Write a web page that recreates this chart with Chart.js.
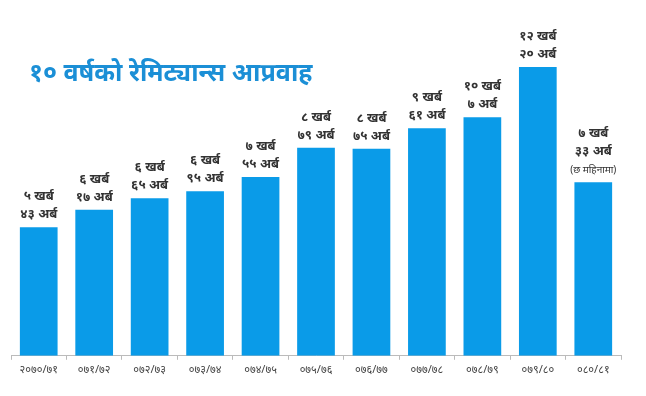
<!DOCTYPE html>
<html>
<head>
<meta charset="utf-8">
<script src="https://cdn.jsdelivr.net/npm/chart.js@4/dist/chart.umd.min.js"></script>
<style>
  body { margin: 0; background: #fff; }
  #wrap { position: relative; width: 646px; height: 396px; }
  #title {
    position: absolute; left: 29px; top: 54px;
    font-family: "Noto Sans", sans-serif; font-weight: bold;
    font-size: 25px; color: #1b8fd6; white-space: nowrap;
  }
</style>
</head>
<body>
<div id="wrap">
  <canvas id="chart" width="646" height="396"></canvas>
  <div id="title">१० वर्षको रेमिट्यान्स आप्रवाह</div>
</div>
<script>
// आर्थिक वर्ष
const years = ['२०७०/७१', '०७१/७२', '०७२/७३', '०७३/७४', '०७४/७५', '०७५/७६', '०७६/७७', '०७७/७८', '०७८/७९', '०७९/८०', '०८०/८१'];
// रकम (अर्बमा)
const remit = [543, 617, 665, 695, 755, 879, 875, 961, 1007, 1220, 733];
// बारमाथिको लेबल
const kharbaText = ['५ खर्ब', '६ खर्ब', '६ खर्ब', '६ खर्ब', '७ खर्ब', '८ खर्ब', '८ खर्ब', '९ खर्ब', '१० खर्ब', '१२ खर्ब', '७ खर्ब'];
const arbaText = ['४३ अर्ब', '१७ अर्ब', '६५ अर्ब', '९५ अर्ब', '५५ अर्ब', '७९ अर्ब', '७५ अर्ब', '६१ अर्ब', '७ अर्ब', '२० अर्ब', '३३ अर्ब'];
const noteText = ['', '', '', '', '', '', '', '', '', '', '(छ महिनामा)'];

const barLabels = {
    id: 'barLabels',
    afterDatasetsDraw(chart) {
        const ctx = chart.ctx;
        const meta = chart.getDatasetMeta(0);
        ctx.save();
        ctx.fillStyle = '#333';
        ctx.textAlign = 'center';
        ctx.textBaseline = 'alphabetic';
        meta.data.forEach((bar, i) => {
            let y = bar.y - 9;
            if (noteText[i]) {
                ctx.font = '10px "Noto Sans", sans-serif';
                ctx.fillText(noteText[i], bar.x, y);
                y -= 18;
            }
            ctx.font = 'bold 13px "Noto Sans", sans-serif';
            ctx.fillText(arbaText[i], bar.x, y);
            ctx.fillText(kharbaText[i], bar.x, y - 18);
        });
        ctx.restore();
    }
};

new Chart(document.getElementById('chart').getContext('2d'), {
    type: 'bar',
    data: {
        labels: years,
        datasets: [{
            data: remit,
            backgroundColor: '#0a9be8',
            barPercentage: 0.68,
            categoryPercentage: 1.0
        }]
    },
    options: {
        responsive: false,
        animation: false,
        layout: { padding: { left: 11, right: 25, top: 48, bottom: 17 } },
        plugins: { legend: { display: false }, tooltip: { enabled: false } },
        scales: {
            x: {
                border: { color: '#bbb' },
                grid: { drawOnChartArea: false, tickLength: 4, color: '#bbb', offset: true },
                ticks: { color: '#444', font: { family: '"Noto Sans", sans-serif', size: 11 }, padding: 3, maxRotation: 0 }
            },
            y: {
                display: false,
                min: 0,
                max: 1300
            }
        }
    },
    plugins: [barLabels]
});
</script>
</body>
</html>
